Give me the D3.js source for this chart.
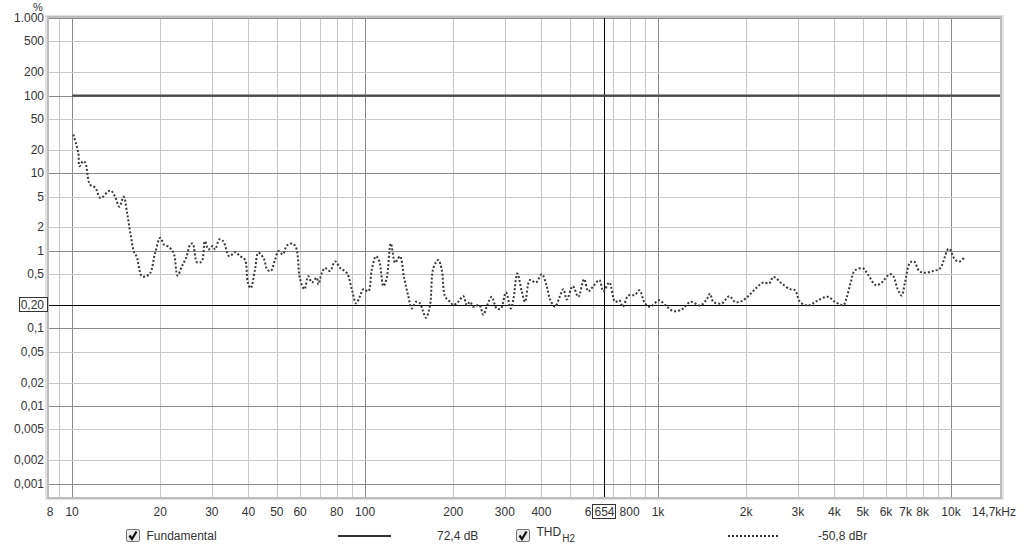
<!DOCTYPE html>
<html><head><meta charset="utf-8">
<script src="https://cdn.jsdelivr.net/npm/d3@7"></script>
<style>
html,body{margin:0;padding:0;background:#fff;}
svg text{font-family:"Liberation Sans",Arial,sans-serif;fill:#333;}
</style></head>
<body>
<svg id="chart" width="1024" height="550"></svg>
<script>
// ---- data ----
const thdFreq = [10.1,10.5,10.6,10.9,11.1,11.5,12.0,12.5,13.5,14.0,14.5,15.0,15.4,15.8,16.3,16.6,17.3,17.9,18.5,19.2,
 20.0,20.6,21.3,22.2,22.9,23.7,24.5,25.3,25.8,26.7,27.7,28.4,29.2,30.2,30.8,31.8,32.8,34.4,36.0,37.5,
 38.9,39.8,40.7,42.1,43.2,45.0,46.4,47.7,49.3,50.6,52.4,54.1,56.5,58.2,60.0,62.1,64.0,65.8,68.4,69.3,
 71.2,73.0,75.9,79.0,82.2,86.6,90.1,93.2,96.1,98.7,102.6,105.4,109.0,111.9,115.5,118.6,122.4,126.6,128.9,131.7,
 135.9,140.5,144.3,149.3,154.1,157.4,161.5,166.7,171.1,177.9,182.7,187.5,195.0,200.1,208.1,216.5,222.3,228.2,234.2,245.5,
 253.3,261.4,270.6,281.5,290.5,302.8,314.3,320.7,331.0,342.6,351.6,365.6,383.4,401.0,417.1,428.1,445.3,460.6,475.3,488.2,
 511.7,534.6,559.1,578.3,601.5,630.6,650.7,682.2,713.4,737.9,757.9,791.9,834.8,863.5,903,939,1010,1057,1128,1204,
 1293,1391,1466,1505,1544,1650,1751,1831,1905,2008,2143,2288,2398,2475,2643,2822,2935,3052,3258,3480,
 3795,4018,4290,4406,4547,4703,5019,5196,5546,5800,6191,6354,6577,6787,6966,7244,7476,7794,8152,8701,
 9174,9413,9791,9922,10320,10730,11160];
const thdPct = [31.5,18.3,12.3,14.3,13.6,7.15,6.5,4.8,6.0,5.05,3.7,4.97,3.09,1.7,0.94,0.85,0.47,0.47,0.52,0.94,
 1.47,1.2,1.13,0.94,0.48,0.63,0.81,1.2,1.24,0.71,0.73,1.33,1.04,1.15,1.04,1.4,1.33,0.85,0.96,0.85,
 0.77,0.39,0.33,0.57,0.94,0.81,0.57,0.55,0.77,0.99,0.9,1.17,1.24,1.09,0.43,0.32,0.47,0.39,0.45,0.37,
 0.52,0.6,0.55,0.73,0.6,0.52,0.32,0.21,0.26,0.32,0.30,0.57,0.85,0.73,0.35,0.45,1.24,0.70,0.77,0.85,
 0.45,0.26,0.18,0.22,0.21,0.17,0.137,0.20,0.60,0.76,0.57,0.26,0.22,0.20,0.22,0.26,0.20,0.22,0.19,0.20,
 0.15,0.20,0.255,0.18,0.18,0.29,0.18,0.236,0.51,0.30,0.22,0.42,0.39,0.50,0.35,0.236,0.19,0.25,0.32,0.236,
 0.35,0.255,0.43,0.30,0.35,0.42,0.30,0.39,0.22,0.23,0.19,0.265,0.27,0.31,0.21,0.19,0.23,0.20,0.167,0.175,
 0.22,0.197,0.236,0.28,0.22,0.21,0.26,0.22,0.22,0.25,0.32,0.39,0.38,0.46,0.38,0.32,0.31,0.22,0.197,0.225,
 0.255,0.22,0.20,0.25,0.39,0.56,0.59,0.50,0.36,0.39,0.50,0.47,0.32,0.265,0.39,0.70,0.73,0.55,0.52,0.55,
 0.59,0.73,1.06,1.04,0.77,0.73,0.84];
const fundamentalPct = 100;
const fundamentalStart = 10;
const xTickVals   = [8.34,10,20,30,40,50,60,80,100,200,300,400,600,800,1000,2000,3000,4000,5000,6000,7000,8000,10000];
const xTickLabels = ["8","10","20","30","40","50","60","80","100","200","300","400","6","800","1k","2k","3k","4k","5k","6k","7k","8k","10k"];
const yTickVals   = [1000,500,200,100,50,20,10,5,2,1,0.5,0.1,0.05,0.02,0.01,0.005,0.002,0.001];
const yTickLabels = ["1.000","500","200","100","50","20","10","5","2","1","0,5","0,1","0,05","0,02","0,01","0,005","0,002","0,001"];
const yGridVals   = [1000,500,200,100,50,20,10,5,2,1,0.5,0.2,0.1,0.05,0.02,0.01,0.005,0.002,0.001];
const cursorFreq = 654, cursorFreqLabel = "654";
const cursorPct = 0.2, cursorPctLabel = "0,20";
const legendItems = [
  {name:"Fundamental", sub:"", value:"72,4 dB", dash:null},
  {name:"THD", sub:"H2", value:"-50,8 dBr", dash:"2,2"}
];

// ---- layout ----
const L=49, R=1000, T=18, B=497;
const svg = d3.select("#chart");
const x = d3.scaleLog().domain([8.34,14700]).range([L,R]);
const y = d3.scaleLog().domain([0.000671,1000]).range([B,T]);

// frame / shadow
svg.append("rect").attr("x",L-4).attr("y",T-3).attr("width",R-L+8).attr("height",B-T+6).attr("fill","#e2e2e2");
svg.append("rect").attr("x",L-2).attr("y",T-2).attr("width",R-L+4).attr("height",B-T+4).attr("fill","#bdbdbd");
svg.append("rect").attr("x",L).attr("y",T).attr("width",R-L).attr("height",B-T).attr("fill","#fff");

// vertical grid
const vgrid=[];
[1,10,100,1000,10000].forEach(d=>{for(let k=1;k<10;k++){const f=d*k; if(f>=9&&f<14700) vgrid.push(f);}});
const isMajor = v => Math.abs(Math.log10(v)-Math.round(Math.log10(v)))<1e-6;
const g = svg.append("g");
g.selectAll(".vg").data(vgrid).enter().append("line")
  .attr("x1",d=>Math.round(x(d))+0.5).attr("x2",d=>Math.round(x(d))+0.5).attr("y1",T).attr("y2",B)
  .attr("stroke",d=>isMajor(d)?"#8a8a8a":"#c8c8c8").attr("stroke-width",1);
g.selectAll(".hg").data(yGridVals).enter().append("line")
  .attr("y1",d=>Math.round(y(d))+0.5).attr("y2",d=>Math.round(y(d))+0.5).attr("x1",L).attr("x2",R)
  .attr("stroke",d=>isMajor(d)?"#8a8a8a":"#c8c8c8").attr("stroke-width",1);

// cursor lines
svg.append("line").attr("x1",Math.round(x(cursorFreq))+0.5).attr("x2",Math.round(x(cursorFreq))+0.5)
  .attr("y1",T).attr("y2",B).attr("stroke","#000").attr("stroke-width",1);
svg.append("line").attr("y1",Math.round(y(cursorPct))+0.5).attr("y2",Math.round(y(cursorPct))+0.5)
  .attr("x1",L).attr("x2",R).attr("stroke","#000").attr("stroke-width",1);

// fundamental
svg.append("line").attr("x1",x(fundamentalStart)).attr("x2",R).attr("y1",y(fundamentalPct)).attr("y2",y(fundamentalPct))
  .attr("stroke","#4a4a4a").attr("stroke-width",2.2);

// THD curve
const pts = thdFreq.map((f,i)=>[f,thdPct[i]]);
const line = d3.line().x(d=>x(d[0])).y(d=>y(d[1])).curve(d3.curveCatmullRom.alpha(0.5));
svg.append("path").attr("d",line(pts)).attr("fill","none").attr("stroke","#383838")
  .attr("stroke-width",2).attr("stroke-dasharray","2,2");

// boxed cursor freq position
const cx = x(cursorFreq);
const boxL = Math.round(cx)-11.5;

// axis labels
svg.append("text").attr("x",38).attr("y",11).attr("text-anchor","middle").style("font-size","11px").text("%");
svg.selectAll(".yl").data(yTickVals).enter().append("text")
  .attr("x",44).attr("y",d=>y(d)+4).attr("text-anchor","end").style("font-size","12px")
  .text((d,i)=>yTickLabels[i]);
svg.selectAll(".xl").data(xTickVals).enter().append("text")
  .attr("x",(d,i)=>i===0?50:(d===600?boxL-1:x(d)))
  .attr("y",516).attr("text-anchor",d=>d===600?"end":"middle").style("font-size","12px")
  .text((d,i)=>xTickLabels[i]);
svg.append("text").attr("x",1016).attr("y",516).attr("text-anchor","end").style("font-size","12px").text("14,7kHz");

// boxed cursor labels
svg.append("rect").attr("x",boxL).attr("y",504.5).attr("width",23).attr("height",14)
  .attr("fill","#fff").attr("stroke","#333");
svg.append("text").attr("x",cx+0.5).attr("y",516).attr("text-anchor","middle").style("font-size","12px").text(cursorFreqLabel);
const cy = y(cursorPct);
svg.append("rect").attr("x",19.5).attr("y",Math.round(cy)-7.5).attr("width",28).attr("height",14)
  .attr("fill","#fff").attr("stroke","#333");
svg.append("text").attr("x",44).attr("y",cy+4).attr("text-anchor","end").style("font-size","12px").text(cursorPctLabel);

// legend
const legX = [126.5, 516.5];
const sampleX = [[338,391],[728,778]];
const valX = [437, 818];
legendItems.forEach((it,i)=>{
  const gx = legX[i];
  const grad = svg.append("g");
  grad.append("rect").attr("x",gx).attr("y",529.5).attr("width",13).attr("height",12).attr("rx",1.5)
    .attr("fill","#e8e8e8").attr("stroke","#777");
  grad.append("path").attr("d",`M${gx+3},${535.5} L${gx+5.5},${539} L${gx+10},${531.5}`)
    .attr("fill","none").attr("stroke","#111").attr("stroke-width",2.2);
  const t = svg.append("text").attr("x",gx+20).attr("y",i===0?539.5:536).style("font-size","12px");
  t.append("tspan").text(it.name);
  if(it.sub) t.append("tspan").attr("dy",6).style("font-size","10px").attr("dx",1).text(it.sub);
  svg.append("line").attr("x1",sampleX[i][0]).attr("x2",sampleX[i][1]).attr("y1",536).attr("y2",536)
    .attr("stroke","#333").attr("stroke-width",2).attr("stroke-dasharray",it.dash);
  svg.append("text").attr("x",valX[i]).attr("y",540).style("font-size","12px").text(it.value);
});
</script>
</body></html>
